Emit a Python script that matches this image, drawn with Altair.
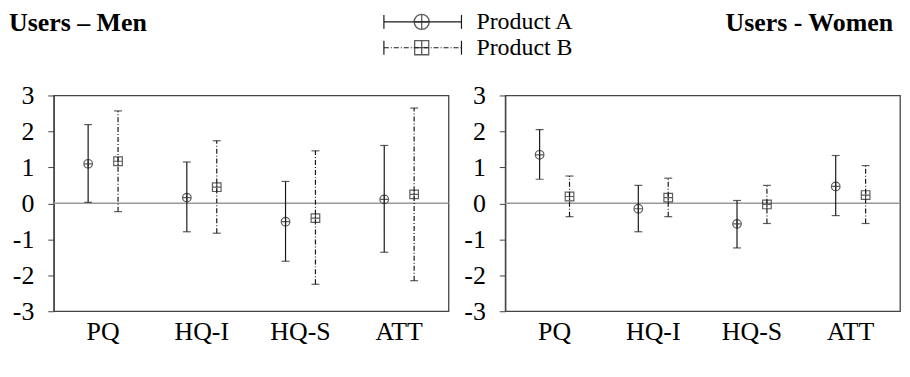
import altair as alt
import pandas as pd

FONT = "'Liberation Serif', 'Times New Roman', Times, serif"

categories = ["PQ", "HQ-I", "HQ-S", "ATT"]
products = ["Product A", "Product B"]

men_mean_a = [1.10, 0.16, -0.51, 0.11]
men_low_a = [0.03, -0.79, -1.61, -1.36]
men_high_a = [2.19, 1.15, 0.61, 1.61]
men_mean_b = [1.17, 0.45, -0.41, 0.25]
men_low_b = [-0.23, -0.83, -2.25, -2.15]
men_high_b = [2.57, 1.74, 1.46, 2.65]

women_mean_a = [1.35, -0.15, -0.57, 0.47]
women_low_a = [0.67, -0.79, -1.24, -0.34]
women_high_a = [2.05, 0.50, 0.08, 1.33]
women_mean_b = [0.19, 0.16, -0.03, 0.23]
women_low_b = [-0.37, -0.37, -0.56, -0.56]
women_high_b = [0.76, 0.70, 0.50, 1.05]

y_ticks = [-3, -2, -1, 0, 1, 2, 3]

CIRCLE = "M-1,0A1,1 0 1,1 1,0A1,1 0 1,1 -1,0ZM-1,0L1,0M0,-1L0,1"
SQUARE = "M-1,-1L1,-1L1,1L-1,1ZM-1,0L1,0M0,-1L0,1"
DASHES = [[1, 0], [5, 2, 1, 2]]
INK = "#1a1a1a"


def make_df(ma, la, ha, mb, lb, hb):
    rows = []
    for i, c in enumerate(categories):
        rows.append({"cat": c, "product": products[0], "mean": ma[i], "low": la[i], "high": ha[i]})
        rows.append({"cat": c, "product": products[1], "mean": mb[i], "low": lb[i], "high": hb[i]})
    return pd.DataFrame(rows)


def panel(df, extra):
    x = alt.X("cat:N", sort=categories,
              scale=alt.Scale(paddingInner=0, paddingOuter=0),
              axis=alt.Axis(title=None, labelAngle=0, ticks=False, domain=False,
                            labelPadding=7, labelFontSize=26, labelFont=FONT,
                            labelColor="#000"))
    xo = alt.XOffset("product:N", sort=products,
                     scale=alt.Scale(paddingInner=0, paddingOuter=0.65))
    ysc = alt.Scale(domain=[-3, 3], nice=False, zero=False)
    yaxis = alt.Axis(title=None, values=y_ticks, labelExpr="'' + datum.value",
                     tickSize=6, labelPadding=14, labelFontSize=26, labelFont=FONT,
                     labelColor="#000", domainColor="#444", tickColor="#444",
                     domainWidth=1.3, grid=False)
    dash = alt.StrokeDash("product:N", scale=alt.Scale(domain=products, range=DASHES), legend=None)
    shape = alt.Shape("product:N", scale=alt.Scale(domain=products, range=[CIRCLE, SQUARE]), legend=None)

    base = alt.Chart(df)
    zero = alt.Chart(pd.DataFrame({"v": [0]})).mark_rule(color="#999", strokeWidth=1.5).encode(
        y=alt.Y("v:Q", scale=ysc, axis=yaxis))
    bars = base.mark_rule(color=INK, strokeWidth=1.2).encode(
        x=x, xOffset=xo, y=alt.Y("low:Q", scale=ysc, axis=yaxis), y2="high:Q", strokeDash=dash)
    cap_lo = base.mark_tick(color=INK, size=8, thickness=1.2).encode(
        x=x, xOffset=xo, y=alt.Y("low:Q", scale=ysc, axis=yaxis))
    cap_hi = base.mark_tick(color=INK, size=8, thickness=1.2).encode(
        x=x, xOffset=xo, y=alt.Y("high:Q", scale=ysc, axis=yaxis))
    pts = base.mark_point(color=INK, filled=False, size=75, strokeWidth=1.2).encode(
        x=x, xOffset=xo, y=alt.Y("mean:Q", scale=ysc, axis=yaxis), shape=shape)
    return alt.layer(zero, bars, cap_lo, cap_hi, pts, *extra).properties(width=397, height=217)


men = make_df(men_mean_a, men_low_a, men_high_a, men_mean_b, men_low_b, men_high_b)
women = make_df(women_mean_a, women_low_a, women_high_a, women_mean_b, women_low_b, women_high_b)

title_style = dict(font=FONT, fontSize=26, fontWeight="bold", baseline="middle", color="#000")

men_title = alt.Chart(pd.DataFrame({"t": ["Users – Men"]})).mark_text(align="left", **title_style).encode(
    text="t:N", x=alt.value(-45), y=alt.value(-73))
women_title = alt.Chart(pd.DataFrame({"t": ["Users - Women"]})).mark_text(align="right", **title_style).encode(
    text="t:N", x=alt.value(390), y=alt.value(-73))

legend_layers = []
for i, p in enumerate(products):
    yy = -74 + 26 * i
    d = pd.DataFrame({"product": [p]})
    legend_layers.append(alt.Chart(d).mark_rule(color=INK, strokeWidth=1.2, strokeDash=DASHES[i]).encode(
        x=alt.value(332), x2=alt.value(410), y=alt.value(yy)))
    for xx in (332, 410):
        legend_layers.append(alt.Chart(d).mark_rule(color=INK, strokeWidth=1.2).encode(
            x=alt.value(xx), y=alt.value(yy - 7), y2=alt.value(yy + 7)))
    legend_layers.append(alt.Chart(d).mark_point(color=INK, filled=False, size=[230, 200][i],
                                                 strokeWidth=1.3, shape=[CIRCLE, SQUARE][i]).encode(
        x=alt.value(370), y=alt.value(yy)))
    legend_layers.append(alt.Chart(d).mark_text(align="left", baseline="middle", font=FONT,
                                                fontSize=24, color="#000").encode(
        text="product:N", x=alt.value(425), y=alt.value(yy)))

left = panel(men, [men_title] + legend_layers)
right = panel(women, [women_title])

chart = alt.hconcat(left, right, spacing=57, bounds="flush").properties(
    padding={"left": 0, "top": 0, "right": 0, "bottom": 0}
).configure(
    background="white",
    view=alt.ViewConfig(stroke="#444", strokeWidth=1.3),
)

chart.save("out.html", embed_options={"renderer": "svg", "actions": False})
